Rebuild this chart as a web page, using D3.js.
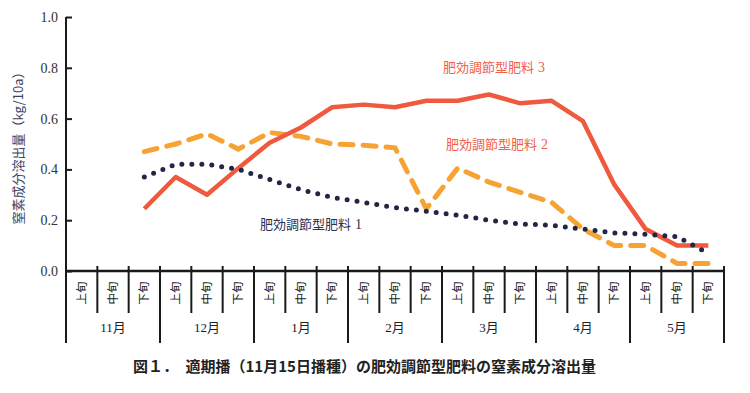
<!DOCTYPE html>
<html>
<head>
<meta charset="utf-8">
<script src="https://cdn.jsdelivr.net/npm/d3@7/dist/d3.min.js"></script>
<style>
  html, body { margin: 0; padding: 0; background: #fff; }
  svg { display: block; }
  .serif { font-family: "Liberation Serif", "DejaVu Serif", "Noto Sans CJK JP", serif; }
</style>
</head>
<body>
<svg id="chart" width="750" height="393"></svg>
<script>
// data
const months = ['11月', '12月', '1月', '2月', '3月', '4月', '5月'];
const thirds = ['上旬', '中旬', '下旬'];
const yTicks = [0, 0.2, 0.4, 0.6, 0.8, 1.0];

// values start at 11月下旬 and run to 5月下旬
const fert1 = [0.37, 0.42, 0.42, 0.40, 0.36, 0.32, 0.29, 0.27, 0.25, 0.235, 0.22, 0.20, 0.185, 0.18, 0.165, 0.15, 0.145, 0.135, 0.07];
const fert2 = [0.47, 0.50, 0.54, 0.48, 0.545, 0.53, 0.50, 0.495, 0.485, 0.245, 0.405, 0.35, 0.31, 0.27, 0.165, 0.10, 0.10, 0.03, 0.03];
const fert3 = [0.245, 0.37, 0.30, 0.405, 0.505, 0.565, 0.645, 0.655, 0.645, 0.67, 0.67, 0.695, 0.66, 0.67, 0.59, 0.34, 0.165, 0.10, 0.10];
const startSlot = 2;

const svg = d3.select('#chart');
const m = {top: 17, left: 66, right: 26, bottom: 122};
const W = 750, H = 393;

// one slot per 旬
const slots = [];
months.forEach(mo => thirds.forEach(t => slots.push(mo + t)));

const x = d3.scaleBand()
    .domain(slots)
    .range([m.left, W - m.right]);

const y = d3.scaleLinear()
    .domain([0, 1])
    .range([H - m.bottom, m.top]);

const y0 = y(0);
const bw = x.bandwidth();

// y axis
const yAxis = d3.axisRight(y)
    .tickValues(yTicks)
    .tickSize(6)
    .tickFormat(d3.format('.1f'));

const gy = svg.append('g')
    .attr('transform', 'translate(' + m.left + ',0)')
    .call(yAxis);
gy.select('.domain').remove();
gy.selectAll('.tick line').attr('stroke', '#1a1a1a').attr('stroke-width', 2);
gy.selectAll('.tick text')
    .attr('x', -8)
    .attr('text-anchor', 'end')
    .attr('class', 'serif')
    .attr('font-size', 14)
    .attr('fill', '#333');

svg.append('line')
    .attr('x1', m.left).attr('x2', m.left)
    .attr('y1', m.top).attr('y2', y0 + 72)
    .attr('stroke', '#1a1a1a').attr('stroke-width', 2);

// x axis line
svg.append('line')
    .attr('x1', m.left).attr('x2', W - m.right)
    .attr('y1', y0).attr('y2', y0)
    .attr('stroke', '#1a1a1a').attr('stroke-width', 2.5);

// slot dividers
slots.forEach((s, i) => {
  const xr = x(s) + bw;
  const monthEnd = (i % 3) === 2;
  svg.append('line')
      .attr('x1', xr).attr('x2', xr)
      .attr('y1', y0 - 5).attr('y2', monthEnd ? y0 + 72 : y0 + 42)
      .attr('stroke', '#1a1a1a').attr('stroke-width', 2);
});

// 旬 labels
svg.append('g').selectAll('text')
    .data(slots)
    .join('text')
    .attr('transform', d => 'translate(' + (x(d) + bw / 2) + ',' + (y0 + 22) + ') rotate(-90)')
    .attr('text-anchor', 'middle')
    .attr('dy', '0.35em')
    .attr('font-family', '"Noto Sans CJK JP", sans-serif')
    .attr('font-size', 11.5)
    .attr('fill', '#222')
    .text((d, i) => thirds[i % 3]);

// month labels
svg.append('g').selectAll('text')
    .data(months)
    .join('text')
    .attr('x', (d, i) => x(slots[i * 3 + 1]) + bw / 2)
    .attr('y', y0 + 61)
    .attr('text-anchor', 'middle')
    .attr('class', 'serif')
    .attr('font-size', 13)
    .attr('fill', '#222')
    .text(d => d);

// lines
const line = d3.line()
    .x((d, i) => x(slots[i + startSlot]) + bw / 2)
    .y(d => y(d));

svg.append('path')
    .datum(fert2)
    .attr('d', line)
    .attr('fill', 'none')
    .attr('stroke', '#f7a334')
    .attr('stroke-width', 5)
    .attr('stroke-linecap', 'round')
    .attr('stroke-dasharray', '13,10');

svg.append('path')
    .datum(fert3)
    .attr('d', line)
    .attr('fill', 'none')
    .attr('stroke', '#ef5a3e')
    .attr('stroke-width', 4.5)
    .attr('stroke-linejoin', 'round');

svg.append('path')
    .datum(fert1)
    .attr('d', line)
    .attr('fill', 'none')
    .attr('stroke', '#232546')
    .attr('stroke-width', 5)
    .attr('stroke-linecap', 'round')
    .attr('stroke-dasharray', '0,10');

// series labels
const labels = [
  {t: '肥効調節型肥料', n: '3', x: 443, y: 72, c: '#f2604a'},
  {t: '肥効調節型肥料', n: '2', x: 446, y: 149, c: '#f2604a'},
  {t: '肥効調節型肥料', n: '1', x: 260, y: 229, c: '#2b2f55'}
];
const lab = svg.append('g').selectAll('text')
    .data(labels)
    .join('text')
    .attr('x', d => d.x)
    .attr('y', d => d.y)
    .attr('font-family', '"Noto Sans CJK JP", sans-serif')
    .attr('font-size', 13)
    .attr('fill', d => d.c);
lab.append('tspan').text(d => d.t);
lab.append('tspan')
    .attr('class', 'serif')
    .attr('font-size', 14)
    .attr('dx', 4)
    .text(d => d.n);

// y title
svg.append('text')
    .attr('transform', 'translate(18,145) rotate(-90)')
    .attr('text-anchor', 'middle')
    .attr('dy', '0.35em')
    .attr('font-family', '"Noto Sans CJK JP", sans-serif')
    .attr('font-size', 13)
    .attr('fill', '#3d4266')
    .text('窒素成分溶出量（kg/10a）');

// caption
svg.append('text')
    .attr('x', 133)
    .attr('y', 372)
    .attr('font-family', '"Noto Sans CJK JP", sans-serif')
    .attr('font-weight', 'bold')
    .attr('font-size', 15)
    .attr('fill', '#222')
    .text('図１．　適期播（11月15日播種）の肥効調節型肥料の窒素成分溶出量');
</script>
</body>
</html>
